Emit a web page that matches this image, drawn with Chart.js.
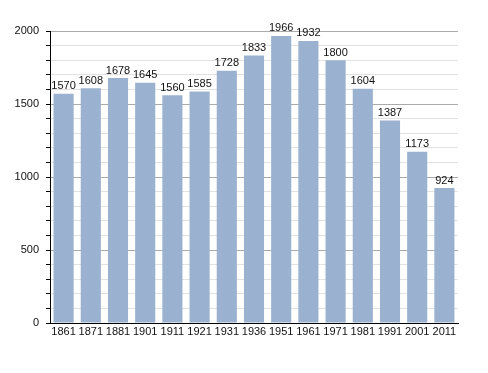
<!DOCTYPE html>
<html>
<head>
<meta charset="utf-8">
<script src="https://cdn.jsdelivr.net/npm/chart.js@4/dist/chart.umd.min.js"></script>
<style>
  body { margin: 0; background: #fff; }
  #wrap { width: 488px; height: 373px; }
</style>
</head>
<body>
<div id="wrap"><canvas id="chart" width="488" height="373"></canvas></div>
<script>
// Census years and population
const years = ["1861", "1871", "1881", "1901", "1911", "1921", "1931", "1936", "1951", "1961", "1971", "1981", "1991", "2001", "2011"];
const population = [1570, 1608, 1678, 1645, 1560, 1585, 1728, 1833, 1966, 1932, 1800, 1604, 1387, 1173, 924];
const yMax = 2000;
const majorStep = 500;
const minorStep = 100;

// Draw the value above each bar
const valueLabels = {
  id: "valueLabels",
  afterDatasetsDraw(chart) {
    const ctx = chart.ctx;
    const meta = chart.getDatasetMeta(0);
    ctx.save();
    ctx.font = "11px 'Liberation Sans', Arial, sans-serif";
    ctx.fillStyle = "#111";
    ctx.textAlign = "center";
    ctx.textBaseline = "bottom";
    meta.data.forEach(function (bar, i) {
      ctx.fillText(String(population[i]), bar.x, bar.y - 2);
    });
    ctx.restore();
  }
};

const ctx = document.getElementById("chart").getContext("2d");
const myChart = new Chart(ctx, {
  type: "bar",
  data: {
    labels: years,
    datasets: [{
      data: population,
      backgroundColor: "#9ab2cf",
      borderWidth: 0,
      categoryPercentage: 1,
      barPercentage: 0.74
    }]
  },
  options: {
    responsive: false,
    animation: false,
    layout: { padding: { left: 0, top: 31, right: 30, bottom: 0 } },
    plugins: { legend: { display: false }, tooltip: { enabled: false } },
    scales: {
      x: {
        grid: { display: false, drawTicks: false },
        border: { color: "#000", width: 1 },
        ticks: {
          color: "#111",
          font: { family: "'Liberation Sans', Arial, sans-serif", size: 11 },
          padding: 2,
          maxRotation: 0,
          autoSkip: false
        },
        afterFit(scale) { scale.height = 50; }
      },
      y: {
        min: 0,
        max: yMax,
        border: { color: "#000", width: 1 },
        grid: {
          color: function (c) { return c.tick.value % majorStep === 0 ? "#aaaaaa" : "#e2e2e2"; },
          tickColor: "#000",
          tickLength: 4
        },
        ticks: {
          stepSize: minorStep,
          autoSkip: false,
          color: "#111",
          font: { family: "'Liberation Sans', Arial, sans-serif", size: 11 },
          padding: 7,
          callback: function (v) { return v % majorStep === 0 ? v : ""; }
        },
        afterFit(scale) { scale.width = 50; }
      }
    }
  },
  plugins: [valueLabels]
});
</script>
</body>
</html>
